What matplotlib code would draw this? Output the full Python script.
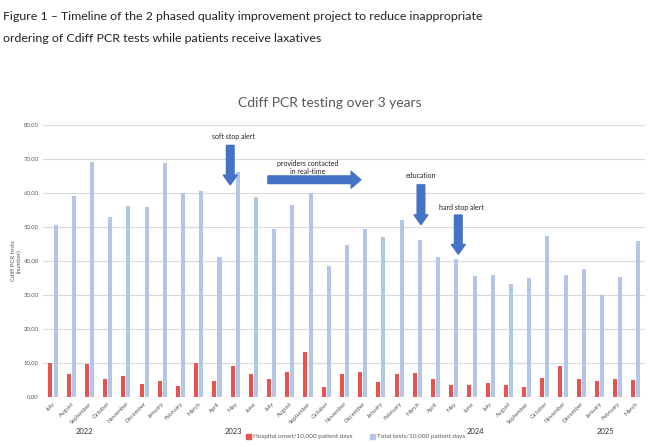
import matplotlib
matplotlib.use("Agg")
import matplotlib.pyplot as plt
from matplotlib.patches import Rectangle

months = ["July", "August", "September", "October", "November", "December",
          "January", "February", "March", "April", "May", "June",
          "July", "August", "September", "October", "November", "December",
          "January", "February", "March", "April", "May", "June",
          "July", "August", "September", "October", "November", "December",
          "January", "February", "March"]
hospital_onset = [10.1, 6.9, 9.8, 5.4, 6.2, 3.8, 4.8, 3.2, 10.0, 4.8, 9.1, 6.8,
                  5.3, 7.4, 13.2, 2.8, 6.9, 7.4, 4.4, 6.9, 7.2, 5.3, 3.4, 3.4,
                  4.1, 3.6, 3.0, 5.7, 9.2, 5.2, 4.8, 5.3, 5.1]
total_tests = [50.5, 59.0, 69.0, 52.8, 56.2, 55.8, 68.7, 60.1, 60.7, 41.2, 66.3, 58.7,
               49.4, 56.5, 59.9, 38.5, 44.8, 49.4, 47.1, 52.0, 46.3, 41.1, 40.6, 35.6,
               36.0, 33.3, 34.9, 47.3, 35.8, 37.7, 30.0, 35.4, 45.9]
years = ["2022", "2023", "2024", "2025"]
yticks = [0, 10, 20, 30, 40, 50, 60, 70, 80]
legend_labels = ["Hospital onset/10,000 patient days", "Total tests/10,000 patient days"]

RED = "#E8524F"
BLUE = "#B4C6E7"
ARROW = "#4472C4"
GRAY = "#595959"

plt.rcParams['font.family'] = ['Lato', 'DejaVu Sans']

W, H = 650, 447
fig = plt.figure(figsize=(6.5, 4.47), dpi=100)
ax = fig.add_axes([43 / W, 1 - 397 / H, 602 / W, 272 / H])

x = list(range(len(months)))
w = 0.22
ax.bar([i - 0.14 for i in x], hospital_onset, width=w, color=RED, zorder=3)
ax.bar([i + 0.14 for i in x], total_tests, width=w, color=BLUE, zorder=3)

ax.set_xlim(-0.55, len(months) - 0.5)
ax.set_ylim(0, 80)
ax.set_yticks(yticks)
ax.set_yticklabels([f"{v:.2f}" for v in yticks], fontsize=4.3, color=GRAY)
ax.set_xticks(x)
ax.set_xticklabels(months, rotation=45, ha="right", rotation_mode="anchor",
                   fontsize=4.3, color=GRAY)
ax.tick_params(length=0, pad=3)
ax.grid(axis="y", color="#D9D9D9", linewidth=0.8, zorder=0)
for s in ax.spines.values():
    s.set_visible(False)
ax.axhline(0, color="#D9D9D9", linewidth=0.8, zorder=1)
ax.set_ylabel("Cdiff PCR tests\n(number)", fontsize=4.4, color=GRAY)
ax.yaxis.set_label_coords((22 - 43) / 602, 0.5)

fig.text(330 / W, 1 - 103 / H, "Cdiff PCR testing over 3 years", fontsize=10,
         color=GRAY, ha="center", va="center")

fig.text(0.005, 1 - 16 / H, "Figure 1 \u2013 Timeline of the 2 phased quality improvement project to reduce inappropriate",
         fontsize=8.9, va="center", ha="left", color="#222222")
fig.text(0.005, 1 - 38 / H, "ordering of Cdiff PCR tests while patients receive laxatives",
         fontsize=8.9, va="center", ha="left", color="#222222")

# year labels
for yr, xp in zip(years, [84, 233, 475, 605]):
    fig.text(xp / W, 1 - 432 / H, yr, fontsize=5.5, ha="center", va="center",
             color="#333333")

# legend
for (xs, col, lab) in [(246, RED, legend_labels[0]), (370, BLUE, legend_labels[1])]:
    fig.add_artist(Rectangle((xs / W, 1 - 438.5 / H), 4.5 / W, 4.5 / H,
                             transform=fig.transFigure, color=col))
    fig.text((xs + 7) / W, 1 - 436.5 / H, lab, fontsize=4.6, ha="left", va="center",
             color=GRAY)

vprops = dict(width=5.5, headwidth=10, headlength=7, color=ARROW, shrink=0)
# soft stop alert
ax.annotate("", xy=(9.73, 62.4), xytext=(9.73, 74.0), arrowprops=vprops, zorder=5)
ax.text(9.9, 76.5, "soft stop alert", fontsize=5, ha="center", va="center", color="#222222")
# providers contacted
hprops = dict(width=5.5, headwidth=12, headlength=7, color=ARROW, shrink=0)
ax.annotate("", xy=(16.9, 63.9), xytext=(11.8, 63.9), arrowprops=hprops, zorder=5)
ax.text(14.0, 67.5, "providers contacted\nin real-time", fontsize=5, ha="center",
        va="center", color="#222222", linespacing=1.3)
# education
ax.annotate("", xy=(20.2, 50.7), xytext=(20.2, 62.4), arrowprops=vprops, zorder=5)
ax.text(20.2, 65.0, "education", fontsize=5, ha="center", va="center", color="#222222")
# hard stop alert
ax.annotate("", xy=(22.25, 42.0), xytext=(22.25, 53.5), arrowprops=vprops, zorder=5)
ax.text(22.4, 55.8, "hard stop alert", fontsize=5, ha="center", va="center", color="#222222")

fig.savefig("out.png", dpi=100)
